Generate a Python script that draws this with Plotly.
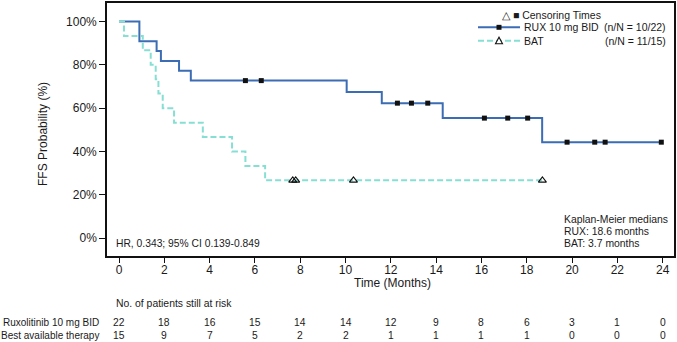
import plotly.graph_objects as go

# ---------------- data ----------------
rux_times = [0, 0.9, 1.66, 1.85, 2.65, 3.17, 10.05, 11.6, 14.29, 18.68, 23.94]
rux_surv = [100, 90.9, 86.4, 81.8, 77.3, 72.7, 67.5, 62.3, 55.4, 44.3, 44.3]
rux_censor = [5.58, 6.28, 12.29, 12.91, 13.63, 16.13, 17.16, 18.04, 19.78, 21.0, 21.46, 23.94]

bat_times = [0, 0.22, 1.05, 1.4, 1.62, 1.74, 1.93, 2.43, 3.7, 4.99, 5.58, 6.45, 18.69]
bat_surv = [100, 93.3, 86.7, 80.0, 73.3, 66.7, 60.0, 53.3, 46.7, 40.0, 33.3, 26.7, 26.7]
bat_censor = [7.67, 7.8, 10.35, 18.69]

risk_months = [0, 2, 4, 6, 8, 10, 12, 14, 16, 18, 20, 22, 24]
rux_risk = [22, 18, 16, 15, 14, 14, 12, 9, 8, 6, 3, 1, 0]
bat_risk = [15, 9, 7, 5, 2, 2, 1, 1, 1, 1, 0, 0, 0]

y_ticks = [0, 20, 40, 60, 80, 100]
y_tick_labels = ["0%", "20%", "40%", "60%", "80%", "100%"]
x_ticks = list(range(0, 25, 2))

RUX_COLOR = "#3B6CB4"
BAT_COLOR = "#86DFD3"
BAT_DASH = "6px,3px"
TXT = "#1a1a1a"
FONT = "Liberation Sans, Arial, sans-serif"


def step_value(times, surv, t):
    v = surv[0]
    for tt, s in zip(times, surv):
        if tt <= t:
            v = s
    return v


fig = go.Figure()
fig.add_trace(go.Scatter(x=rux_times, y=rux_surv, mode="lines", line_shape="hv",
                         line=dict(color=RUX_COLOR, width=2), showlegend=False))
fig.add_trace(go.Scatter(x=bat_times, y=bat_surv, mode="lines", line_shape="hv",
                         line=dict(color=BAT_COLOR, width=2, dash=BAT_DASH), showlegend=False))
fig.add_trace(go.Scatter(x=rux_censor, y=[step_value(rux_times, rux_surv, t) for t in rux_censor],
                         mode="markers", marker=dict(symbol="square", size=5, color="#111"),
                         showlegend=False))
fig.add_trace(go.Scatter(x=bat_censor, y=[step_value(bat_times, bat_surv, t) for t in bat_censor],
                         mode="markers",
                         marker=dict(symbol="triangle-up-open", size=7, color="#111",
                                     line=dict(width=1.1, color="#111")),
                         showlegend=False))

L, R, T, B = 107, 3, 1, 86
W, H = 677, 342
PW = W - L - R
PH = H - T - B


def px(xp):
    return (xp - L) / PW


def py(yp):
    return (T + PH - yp) / PH


ann = []
# axis titles
ann.append(dict(text="Time (Months)", x=px(392), y=py(283), xref="paper", yref="paper",
                showarrow=False, font=dict(size=12, color=TXT), xanchor="center", yanchor="middle"))
ann.append(dict(text="FFS Probability (%)", x=px(43), y=py(133), xref="paper", yref="paper",
                showarrow=False, textangle=-90, font=dict(size=12, color=TXT),
                xanchor="center", yanchor="middle"))
# HR text
ann.append(dict(text="HR, 0.343; 95% CI 0.139-0.849", x=px(114), y=py(243), xref="paper", yref="paper",
                showarrow=False, font=dict(size=10.3, color=TXT), xanchor="left", yanchor="middle"))
# KM medians
for txt, yy in [("Kaplan-Meier medians", 219), ("RUX: 18.6 months", 231), ("BAT: 3.7 months", 243)]:
    ann.append(dict(text=txt, x=px(562), y=py(yy), xref="paper", yref="paper",
                    showarrow=False, font=dict(size=10.4, color=TXT), xanchor="left", yanchor="middle"))
# risk table
ann.append(dict(text="No. of patients still at risk", x=px(114), y=py(304), xref="paper", yref="paper",
                showarrow=False, font=dict(size=10.4, color=TXT), xanchor="left", yanchor="middle"))
for label, vals, yy in [("Ruxolitinib 10 mg BID", rux_risk, 323), ("Best available therapy", bat_risk, 336)]:
    ann.append(dict(text=label, x=px(100.5), y=py(yy), xref="paper", yref="paper",
                    showarrow=False, font=dict(size=10, color=TXT), xanchor="right", yanchor="middle"))
    for m, v in zip(risk_months, vals):
        ann.append(dict(text=str(v), x=m, y=py(yy), xref="x", yref="paper",
                        showarrow=False, font=dict(size=10.3, color=TXT), xanchor="center",
                        yanchor="middle"))

# legend (manual)
ann.append(dict(text="\u25B3 \u25A0 Censoring Times", x=px(500), y=py(13), xref="paper", yref="paper",
                showarrow=False, font=dict(size=10.5, color=TXT), xanchor="left", yanchor="middle"))
ann.append(dict(text="RUX 10 mg BID", x=px(522), y=py(25.5), xref="paper", yref="paper",
                showarrow=False, font=dict(size=10.5, color=TXT), xanchor="left", yanchor="middle"))
ann.append(dict(text="BAT", x=px(522), y=py(39), xref="paper", yref="paper",
                showarrow=False, font=dict(size=10.5, color=TXT), xanchor="left", yanchor="middle"))
ann.append(dict(text="(n/N = 10/22)", x=px(668), y=py(25.5), xref="paper", yref="paper",
                showarrow=False, font=dict(size=10.5, color=TXT), xanchor="right", yanchor="middle"))
ann.append(dict(text="(n/N = 11/15)", x=px(668), y=py(39), xref="paper", yref="paper",
                showarrow=False, font=dict(size=10.5, color=TXT), xanchor="right", yanchor="middle"))

shapes = []
shapes.append(dict(type="line", xref="paper", yref="paper", x0=px(478), x1=px(520), y0=py(25.5), y1=py(25.5),
                   line=dict(color=RUX_COLOR, width=2)))
shapes.append(dict(type="line", xref="paper", yref="paper", x0=px(478), x1=px(520), y0=py(39), y1=py(39),
                   line=dict(color=BAT_COLOR, width=2, dash=BAT_DASH)))
# legend marker square
shapes.append(dict(type="rect", xref="paper", yref="paper", x0=px(496.5), x1=px(501.5),
                   y0=py(28), y1=py(23), fillcolor="#111", line=dict(width=0)))
# legend marker triangle
shapes.append(dict(type="path", xref="paper", yref="paper",
                   path=f"M {px(495.5)} {py(42)} L {px(502.5)} {py(42)} L {px(499)} {py(35.5)} Z",
                   fillcolor="white", line=dict(color="#111", width=1.1)))

fig.update_layout(
    width=W, height=H,
    margin=dict(l=L, r=R, t=T, b=B, pad=0),
    paper_bgcolor="white", plot_bgcolor="white",
    font=dict(family=FONT, size=12, color=TXT),
    annotations=ann, shapes=shapes,
    showlegend=False,
)
fig.update_xaxes(range=[-0.53, 24.5], tickvals=x_ticks, ticks="outside", ticklen=5, tickwidth=1.2,
                 tickcolor="#111", showline=True, linecolor="#111", linewidth=1.6, mirror=True,
                 showgrid=False, zeroline=False, tickfont=dict(size=12, color=TXT),
                 ticklabelstandoff=-3)
fig.update_yaxes(range=[-8.2, 108.5], tickvals=y_ticks, ticktext=y_tick_labels, ticks="outside", ticklen=6,
                 tickwidth=1.2, tickcolor="#111", showline=True, linecolor="#111", linewidth=1.6,
                 mirror=True, showgrid=False, zeroline=False, tickfont=dict(size=12, color=TXT))

fig.write_html("out.html", config={"displayModeBar": False})

# remove the default page margin so the figure sits at the window origin
with open("out.html", "r", encoding="utf-8") as f:
    html = f.read()
html = html.replace("<head>", "<head><style>html,body{margin:0;padding:0;overflow:hidden;}</style>", 1)
with open("out.html", "w", encoding="utf-8") as f:
    f.write(html)
